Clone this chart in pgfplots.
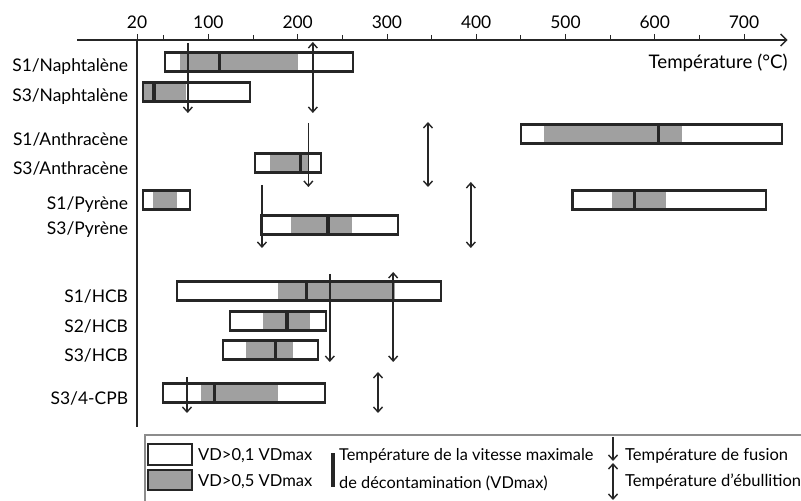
\documentclass[border=0pt]{standalone}
\usepackage{fontspec}
\setmainfont{Lato}
\usepackage{pgfplots}
\pgfplotsset{compat=1.18}
\usetikzlibrary{arrows.meta}
\definecolor{ink}{HTML}{262626}
\definecolor{barGray}{HTML}{A0A0A0}
\definecolor{frameGray}{HTML}{8C8C8C}
\newcommand\fnt{\fontsize{17.5}{20}\selectfont}
\newcommand\lfnt{\fontsize{16.6}{19}\selectfont}
% #1 ylo, #2 yhi, #3 lo, #4 hi, #5 gray lo, #6 gray hi
\newcommand\drawbar[6]{%
  \addplot[fill=white, draw=none] coordinates {(#3,#1) (#4,#1) (#4,#2) (#3,#2)} -- cycle;
  \addplot[fill=barGray, draw=none] coordinates {(#5,#1) (#6,#1) (#6,#2) (#5,#2)} -- cycle;
}
\newcommand\outline[4]{%
  \addplot[draw=ink, line width=2.2bp, fill=none, line join=miter] coordinates {(#3,#1) (#4,#1) (#4,#2) (#3,#2)} -- cycle;
}
\tikzset{
  fus/.style={ink, line width=1.4bp, -{Straight Barb[length=5bp,width=9bp,line width=1.4bp]}},
  ebu/.style={ink, line width=1.4bp, {Straight Barb[length=5bp,width=9bp,line width=1.4bp]}-{Straight Barb[length=5bp,width=9bp,line width=1.4bp]}},
}
\begin{document}
\begin{tikzpicture}
\useasboundingbox (0,0) rectangle (801bp,501bp);
\begin{axis}[
  at={(77.2bp,76bp)}, anchor=south west,
  scale only axis, width=710.5bp, height=385bp,
  xmin=-47, xmax=749, ymin=76, ymax=461,
  clip=false,
  axis x line=top, axis y line=left,
  x axis line style={ink, line width=1.5bp, -{Straight Barb[length=6bp,width=12bp,line width=1.5bp]}},
  y axis line style={draw=none},
  xtick={20,100,200,300,400,500,600,700},
  minor xtick={50,150,250,350,450,550,650},
  tick align=outside,
  major tick length=6bp, minor tick length=5bp,
  xtick style={ink, line width=0.8bp},
  ytick style={draw=none},
  /pgf/number format/assume math mode=true,
  xticklabel style={font=\fnt, inner sep=0pt, yshift=5bp},
  ytick={108,151,180,210,276,301,338,367,409,439},
  yticklabels={S3/4-CPB,S3/HCB,S2/HCB,S1/HCB,S3/Pyrène,S1/Pyrène,S3/Anthracène,S1/Anthracène,S3/Naphtalène,S1/Naphtalène},
  yticklabel style={font=\fnt, anchor=east, inner sep=0pt, xshift=57bp, yshift=-5bp},
  xlabel={Température (°C)},
  xlabel style={font=\fontsize{18.8}{21}\selectfont, at={(axis description cs:1,0.94)}, anchor=east, inner sep=0pt},
]
% bars: ylo, yhi, lo, hi, gray lo, gray hi
\drawbar{429.5}{448.5}{51}{262}{68}{200}   % S1/Naphtalene
\drawbar{399.5}{418.5}{27}{147}{27}{75}    % S3/Naphtalene
\drawbar{357.5}{376.5}{450}{743}{476}{631} % S1/Anthracene
\drawbar{328.5}{347.5}{152}{226}{169}{212} % S3/Anthracene
\drawbar{291.5}{310.5}{27}{79}{38}{65}     % S1/Pyrene (a)
\drawbar{291.5}{310.5}{508}{725}{552}{613} % S1/Pyrene (b)
\drawbar{266.5}{285.5}{159}{312}{192}{261} % S3/Pyrene
\drawbar{200.5}{219.5}{65}{361}{178}{309}  % S1/HCB
\drawbar{170.5}{189.5}{124}{232}{161}{214} % S2/HCB
\drawbar{141.5}{160.5}{116}{223}{142}{195} % S3/HCB
\drawbar{98.5}{117.5}{49}{231}{92}{178}    % S3/4-CPB
% temperature of maximum rate
\addplot[only marks, mark=|, mark size=9bp, mark options={draw=ink, line width=3.2bp}]
  coordinates {(112,439) (39,409) (604,367) (203,338) (577,301) (234,276)
               (210,210) (188,180) (175,151) (107,108)};
\outline{429.5}{448.5}{51}{262}
\outline{399.5}{418.5}{27}{147}
\outline{357.5}{376.5}{450}{743}
\outline{328.5}{347.5}{152}{226}
\outline{291.5}{310.5}{27}{79}
\outline{291.5}{310.5}{508}{725}
\outline{266.5}{285.5}{159}{312}
\outline{200.5}{219.5}{65}{361}
\outline{170.5}{189.5}{124}{232}
\outline{141.5}{160.5}{116}{223}
\outline{98.5}{117.5}{49}{231}
% melting (fusion) and boiling (ebullition) temperatures
\addplot[fus] coordinates {(77,458) (77,388)};
\addplot[ebu] coordinates {(217,459) (217,388)};
\addplot[fus] coordinates {(212,378) (212,314)};
\addplot[ebu] coordinates {(346,379) (346,314)};
\addplot[fus] coordinates {(160,316) (160,253)};
\addplot[ebu] coordinates {(394,319) (394,253)};
\addplot[fus] coordinates {(236,227) (236,139)};
\addplot[ebu] coordinates {(307,229) (307,139)};
\addplot[fus] coordinates {(76,124) (76,88)};
\addplot[ebu] coordinates {(290,129) (290,88)};
% vertical axis at 20 degC
\draw[ink, line width=1.5bp] (axis cs:20,461) -- (axis cs:20,74);
\end{axis}
% legend
\draw[frameGray, line width=1.2bp] (145bp,-5bp) -- (145bp,66bp) -- (810bp,66bp);
\draw[ink, line width=2bp, fill=white] (148bp,36bp) rectangle (192bp,57bp);
\draw[ink, line width=2bp, fill=barGray] (148bp,11bp) rectangle (192bp,31bp);
\node[font=\lfnt, anchor=base west, inner sep=0pt] at (198bp,40bp) {VD>0,1 VDmax};
\node[font=\lfnt, anchor=base west, inner sep=0pt] at (198bp,15bp) {VD>0,5 VDmax};
\draw[ink, line width=4bp] (333bp,14bp) -- (333bp,48bp);
\node[font=\fontsize{16.4}{19}\selectfont, anchor=base west, inner sep=0pt] at (339bp,40bp) {Température de la vitesse maximale};
\node[font=\fontsize{16.4}{19}\selectfont, anchor=base west, inner sep=0pt] at (339bp,13bp) {de décontamination (VDmax)};
\draw[fus] (613bp,64bp) -- (613bp,40bp);
\draw[ebu] (613bp,38bp) -- (613bp,1bp);
\node[font=\lfnt, anchor=base west, inner sep=0pt] at (625bp,40bp) {Température de fusion};
\node[font=\lfnt, anchor=base west, inner sep=0pt] at (625bp,15bp) {Température d’ébullition};
\end{tikzpicture}
\end{document}
